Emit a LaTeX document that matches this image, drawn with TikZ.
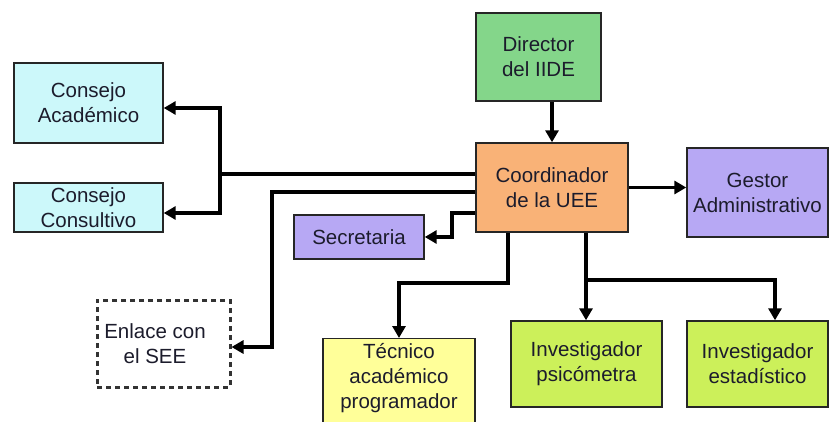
\documentclass[tikz,border=0pt]{standalone}
\usepackage{fontspec}
\setmainfont{Liberation Sans}
\usetikzlibrary{arrows.meta}
\definecolor{ccyan}{HTML}{CCF8FA}
\definecolor{cgreen}{HTML}{84D68A}
\definecolor{corange}{HTML}{F9B277}
\definecolor{cpurple}{HTML}{B7A8F4}
\definecolor{cyellow}{HTML}{FFFF99}
\definecolor{clime}{HTML}{CCF05A}
\definecolor{ctext}{HTML}{1C1C2C}
\begin{document}
\begin{tikzpicture}[x=1pt,y=-1pt,
  txt/.style={text=ctext,font=\fontsize{20.5}{25}\selectfont,align=center},
  box/.style={txt,draw=black!85,line width=1.4pt,rectangle,inner sep=0pt},
  arr/.style={line width=3.8pt,-{Triangle[length=12pt,width=13pt]}},
  ln/.style={line width=3.8pt}]
\fill[white] (0,0) rectangle (830,422);
\useasboundingbox (0,0) rectangle (830,422);
\clip (0,0) rectangle (830,422);

\node[box,fill=ccyan,minimum width=149pt,minimum height=80pt] (acad) at (88.5,103) {Consejo\\Académico};
\node[box,fill=ccyan,minimum width=149pt,minimum height=49pt] (cons) at (88.5,207.5) {Consejo\\Consultivo};
\node[box,fill=cgreen,minimum width=125pt,minimum height=88pt] (dir) at (538.5,57) {Director\\del IIDE};
\node[box,fill=corange,minimum width=152pt,minimum height=89pt] (coord) at (552,187.5) {Coordinador\\de la UEE};
\node[box,fill=cpurple,minimum width=130pt,minimum height=44pt] (sec) at (359,237) {Secretaria};
\node[box,fill=cpurple,minimum width=141pt,minimum height=89pt] (gest) at (757.5,192.5) {Gestor\\Administrativo};
\node[box,fill=cyellow,minimum width=152pt,minimum height=110pt,anchor=north] (tec) at (399,338) {};
\node[txt,anchor=north] (tect) at (399,340) {Técnico\\académico\\programador};
\node[box,fill=clime,minimum width=151pt,minimum height=86pt] (psic) at (586.5,364) {Investigador\\psicómetra};
\node[box,fill=clime,minimum width=141pt,minimum height=86pt] (est) at (757.5,364) {Investigador\\estadístico};
\node[box,draw=black!80,line width=3pt,dash pattern=on 5pt off 4pt,minimum width=133pt,minimum height=87pt] (enl) at (163.5,343.5) {};
\node[txt] (enlt) at (155,343.5) {Enlace con\\el SEE};

% connectors
\draw[arr] (dir.south -| coord.north) -- (coord.north);
\draw[arr] (coord.east) -- (coord.east -| gest.west);
\coordinate (j1) at (220,174);
\draw[ln] (coord.west |- j1) -- (j1);
\draw[arr] (j1) |- ([yshift=-5pt]acad.east);
\draw[arr] (j1) |- ([yshift=-5.5pt]cons.east);
\coordinate (j2) at (272,192);
\draw[arr] (coord.west |- j2) -- (j2) |- ([yshift=-3.5pt]enl.east);
\coordinate (j3) at (452,213);
\draw[arr] (coord.west |- j3) -- (j3) |- (sec.east);
\coordinate (j4) at (508,283);
\draw[arr] (coord.south -| j4) -- (j4) -| (tec.north);
\coordinate (j5) at (586,280);
\draw[arr] (coord.south -| j5) -- (j5 |- psic.north);
\draw[arr] (j5) -| ([xshift=17.5pt]est.north);
\end{tikzpicture}
\end{document}
